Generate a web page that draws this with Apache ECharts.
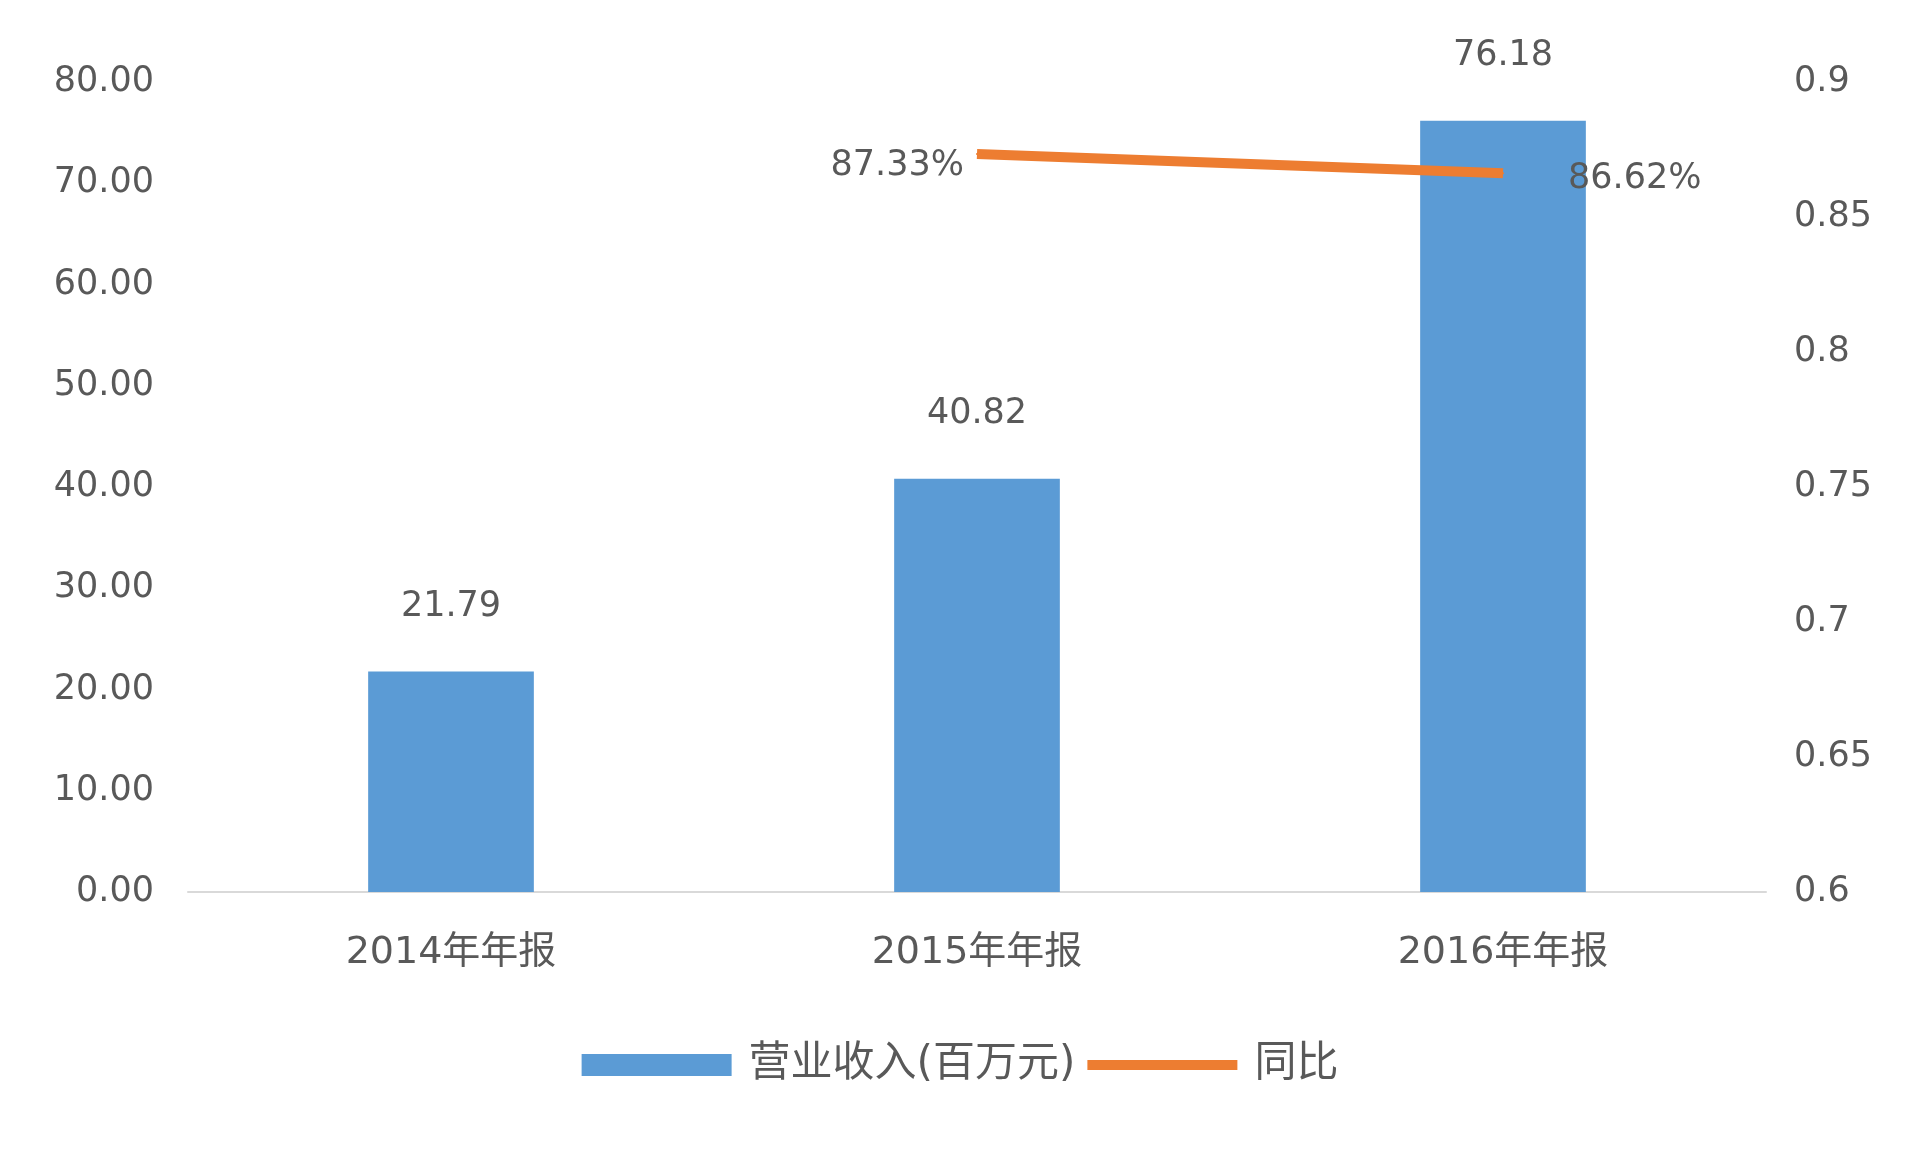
<!DOCTYPE html>
<html>
<head>
<meta charset="utf-8">
<script src="https://cdn.jsdelivr.net/npm/echarts@6/dist/echarts.min.js"></script>
<style>
html,body{margin:0;padding:0;background:#fff;}
#chart{width:1920px;height:1153px;}
</style>
</head>
<body>
<div id="chart"></div>
<script>
const categories = ['2014年年报', '2015年年报', '2016年年报'];
const revenue = [21.79, 40.82, 76.18];
const yoy = [null, 0.8733, 0.8662];
const seriesNames = ['营业收入(百万元)', '同比'];

const FONT = '"DejaVu Sans", "Noto Sans CJK SC", sans-serif';
const TXT = '#595959';

const yoyData = yoy.map((v, i) => {
  if (v === null) return null;
  const isLast = i === yoy.length - 1;
  return {
    value: v,
    label: {
      position: isLast ? 'right' : 'left',
      distance: isLast ? 64 : 12,
      offset: [0, isLast ? 6 : 12]
    }
  };
});

const chart = echarts.init(document.getElementById('chart'));
chart.setOption({
  backgroundColor: '#ffffff',
  animation: false,
  textStyle: { fontFamily: FONT, color: TXT },
  grid: { left: 188, right: 154, top: 82, bottom: 261, containLabel: false },
  legend: {
    bottom: 62,
    left: 'center',
    itemWidth: 150,
    itemHeight: 22,
    itemGap: 12,
    textStyle: { fontSize: 42, color: TXT, fontFamily: FONT, padding: [0, 0, 0, 12] },
    data: [
      { name: seriesNames[0], icon: 'rect' },
      { name: seriesNames[1], icon: 'path://M0,0 L0,0 M0,6 L150,6 L150,16 L0,16 Z M150,22 L150,22', itemStyle: { color: '#ED7D31', opacity: 1 } }
    ]
  },
  xAxis: {
    type: 'category',
    data: categories,
    axisLine: { lineStyle: { color: '#D9D9D9', width: 2 } },
    axisTick: { show: false },
    axisLabel: { fontSize: 38, color: TXT, margin: 42, fontFamily: FONT }
  },
  yAxis: [
    {
      type: 'value',
      min: 0, max: 80, interval: 10,
      axisLine: { show: false },
      axisTick: { show: false },
      splitLine: { show: false },
      axisLabel: { fontSize: 35, color: TXT, margin: 34, fontFamily: FONT, padding: [8, 0, 0, 0], formatter: v => v.toFixed(2) }
    },
    {
      type: 'value',
      min: 0.6, max: 0.9, interval: 0.05,
      axisLine: { show: false },
      axisTick: { show: false },
      splitLine: { show: false },
      axisLabel: { fontSize: 35, color: TXT, margin: 28, fontFamily: FONT, padding: [8, 0, 0, 0],
        formatter: v => String(parseFloat(v.toFixed(2))) }
    }
  ],
  series: [
    {
      name: seriesNames[0],
      type: 'bar',
      data: revenue,
      barWidth: '31.5%',
      itemStyle: { color: '#5B9BD5' },
      label: {
        show: true, position: 'top', distance: 47,
        fontSize: 35, color: TXT, fontFamily: FONT,
        formatter: p => p.value.toFixed(2)
      }
    },
    {
      name: seriesNames[1],
      type: 'line',
      yAxisIndex: 1,
      data: yoyData,
      symbol: 'circle',
      symbolSize: 2,
      showSymbol: true,
      lineStyle: { color: '#ED7D31', width: 10 },
      itemStyle: { color: '#ED7D31' },
      label: {
        show: true,
        fontSize: 35, color: TXT, fontFamily: FONT,
        formatter: p => (p.value * 100).toFixed(2) + '%'
      }
    }
  ]
});
</script>
</body>
</html>
